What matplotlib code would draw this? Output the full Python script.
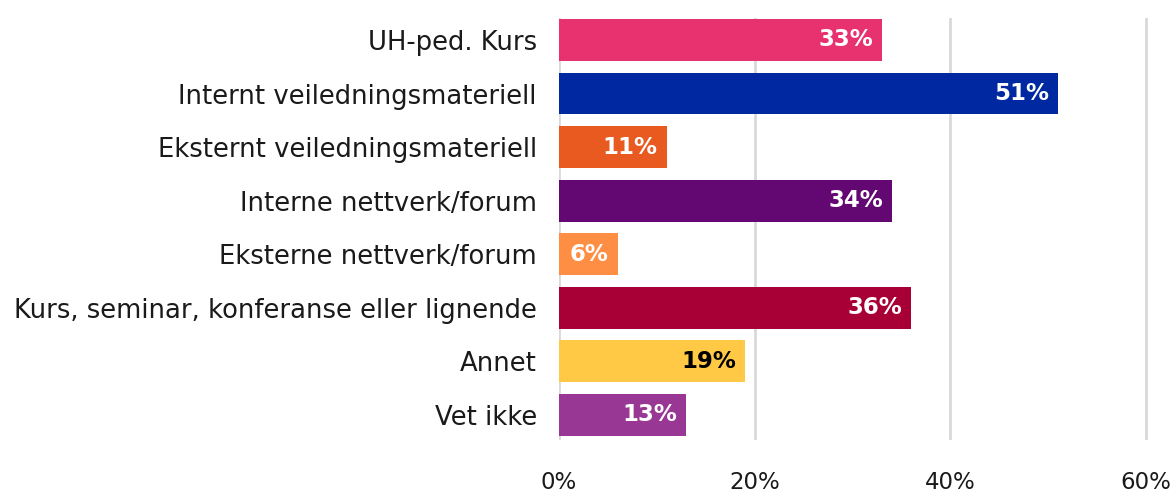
import matplotlib
matplotlib.use("Agg")
import matplotlib.pyplot as plt

categories = ["UH-ped. Kurs", "Internt veiledningsmateriell", "Eksternt veiledningsmateriell",
              "Interne nettverk/forum", "Eksterne nettverk/forum",
              "Kurs, seminar, konferanse eller lignende", "Annet", "Vet ikke"]
values = [33, 51, 11, 34, 6, 36, 19, 13]
colors = ["#E8316F", "#0028A0", "#E95A20", "#630872", "#FF8E45", "#A80036", "#FFC845", "#983794"]
label_colors = ["white", "white", "white", "white", "white", "white", "black", "white"]
xticks = [0, 20, 40, 60]
xtick_labels = ["0%", "20%", "40%", "60%"]

FONT = ["DejaVu Sans"]
plt.rcParams['font.family'] = FONT

ppu = (1146 - 559) / 60.0
fig = plt.figure(figsize=(11.73, 4.95), dpi=100)
ax = fig.add_axes([559/1173, 1-440/495, (60.4 * ppu)/1173, (440-18)/495])

y = list(range(len(categories)))
ax.barh(y, values, height=0.78, color=colors, zorder=3)
for yi, v, lc in zip(y, values, label_colors):
    ax.text(v - 0.9, yi, f"{v}%", ha="right", va="center", color=lc,
            fontsize=16.5, fontweight="bold", zorder=4)

ax.set_xlim(0, 60.4)
ax.set_ylim(7.47, -0.41)
ax.set_yticks(y)
ax.set_yticklabels(categories, fontsize=18.6, color="#1a1a1a")
ax.set_xticks(xticks)
ax.set_xticklabels(xtick_labels, fontsize=16.5, color="#1a1a1a")
ax.tick_params(axis="both", length=0)
ax.tick_params(axis="y", pad=16)
ax.tick_params(axis="x", pad=22)
for s in ax.spines.values():
    s.set_visible(False)
ax.grid(axis="x", color="#d9d9d9", linewidth=2, zorder=0)
ax.set_axisbelow(True)

fig.savefig("out.png", dpi=100)
